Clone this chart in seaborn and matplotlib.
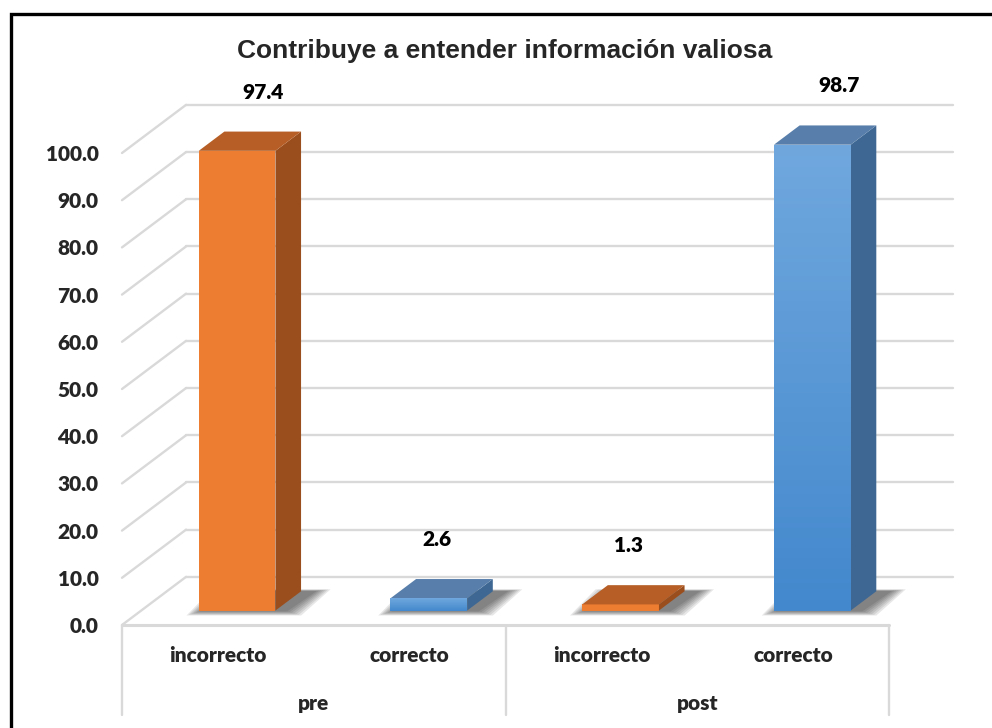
import matplotlib
matplotlib.use("Agg")
import matplotlib.pyplot as plt
from matplotlib.patches import Polygon, Rectangle
from matplotlib.colors import LinearSegmentedColormap
import numpy as np
import pandas as pd
import seaborn as sns

# datos del gráfico
grupos = ["pre", "pre", "post", "post"]
respuestas = ["incorrecto", "correcto", "incorrecto", "correcto"]
valores = [97.4, 2.6, 1.3, 98.7]
ticks_y = list(range(0, 101, 10))
titulo = "Contribuye a entender información valiosa"

df = pd.DataFrame({"grupo": grupos, "respuesta": respuestas, "valor": valores})
df["clave"] = df["grupo"] + "_" + df["respuesta"]

sns.set_theme(style="white")
plt.rcParams["font.family"] = ["Lato", "DejaVu Sans"]

# colores (cara frontal, lateral, superior)
colores = {"incorrecto": "#ED7D31", "correcto": "#5B9BD5"}
lateral = {"incorrecto": "#9B4E1D", "correcto": "#3E6893"}
superior = {"incorrecto": "#B65E25", "correcto": "#587FAB"}

# profundidad del "3D" en unidades de datos
DX, DY = 0.334, 10.2
ANCHO = 0.40
PESO = "heavy"

fig = plt.figure(figsize=(9.92, 7.28), dpi=100)
ax = fig.add_axes([122 / 992, 103 / 728, 838 / 992, 565 / 728])

sns.barplot(data=df, x="clave", y="valor", hue="respuesta", palette=colores,
            width=ANCHO, dodge=False, legend=False, saturation=1, ax=ax, zorder=3)

# pared del fondo con líneas de cuadrícula
gris = "#D9D9D9"
for v in ticks_y:
    ax.plot([-0.5, -0.5 + DX], [v, v + DY], color=gris, lw=1.7, zorder=0.5, clip_on=False)
    ax.plot([-0.5 + DX, 3.5 + DX], [v + DY, v + DY], color=gris, lw=1.7, zorder=0.5, clip_on=False)
# borde frontal del piso
ax.plot([-0.5, 3.5], [0, 0], color=gris, lw=2.2, zorder=0.6, clip_on=False)

# caras laterales, superiores, sombras y degradado
azul_grad = np.linspace(0, 1, 256).reshape(-1, 1)
cmap_azul = LinearSegmentedColormap.from_list("az", ["#4388CD", "#70A8DE"])

barras = [p for p in ax.patches]
for p in barras:
    x0 = p.get_x() + 0.3 * DX
    y0 = 0.3 * DY
    w = p.get_width()
    h = p.get_height()
    cx = x0 + w / 2 - 0.3 * DX
    idx = int(round(cx))
    resp = respuestas[idx]
    p.set_x(x0)
    p.set_y(y0)
    p.set_edgecolor("none")

    # sombra difusa sobre el piso
    for k in range(1, 8):
        e = 0.012 * k
        base = [(x0 - e + 0.02, y0 - 0.15 * k), (x0 + w + e + 0.05, y0 - 0.15 * k),
                (x0 + w + 0.4 * DX + e + 0.07, y0 + 0.4 * DY + 0.06 * k),
                (x0 + 0.4 * DX - e + 0.02, y0 + 0.4 * DY + 0.06 * k)]
        ax.add_patch(Polygon(base, closed=True, fc="#1a1a1a", ec="none", alpha=0.1, zorder=1))

    lado = [(x0 + w, y0), (x0 + w + 0.4 * DX, y0 + 0.4 * DY),
            (x0 + w + 0.4 * DX, y0 + h + 0.4 * DY), (x0 + w, y0 + h)]
    tapa = [(x0, y0 + h), (x0 + w, y0 + h),
            (x0 + w + 0.4 * DX, y0 + h + 0.4 * DY), (x0 + 0.4 * DX, y0 + h + 0.4 * DY)]
    ax.add_patch(Polygon(lado, closed=True, fc=lateral[resp], ec="none", zorder=3))
    ax.add_patch(Polygon(tapa, closed=True, fc=superior[resp], ec="none", zorder=3))

    if resp == "correcto":
        im = ax.imshow(azul_grad, extent=[x0, x0 + w, y0, y0 + h], origin="lower",
                       cmap=cmap_azul, aspect="auto", zorder=3.5)
        im.set_clip_path(p)

    # etiqueta de valor
    ax.text(cx + 0.14 + 0.001 * h, h + 15.5, f"{h:.1f}", ha="center", va="center",
            fontsize=15, fontweight=PESO, color="black", zorder=5)

ax.set_xlim(-0.5, -0.5 + 838 / 191.75)
ax.set_ylim(0, 565 / 4.72)

# eje y
ax.set_yticks(ticks_y)
ax.set_yticklabels([f"{v:.1f}" for v in ticks_y], fontsize=15, fontweight=PESO)
ax.tick_params(axis="y", length=0, pad=17)
ax.set_xticks([])
ax.set_xlabel("")
ax.set_ylabel("")
for s in ax.spines.values():
    s.set_visible(False)

# etiquetas de categorías y grupos debajo del eje
for i, r in enumerate(respuestas):
    ax.text(i, -6.4, r, ha="center", va="center", fontsize=15, fontweight=PESO, clip_on=False)
for j, g in enumerate(["pre", "post"]):
    ax.text(2 * j + 0.5, -16.6, g, ha="center", va="center", fontsize=15, fontweight=PESO, clip_on=False)
for xs in [-0.5, 1.5, 3.5]:
    ax.plot([xs, xs], [0, -19.1], color=gris, lw=1.7, clip_on=False, zorder=0.5)

# título y marco
fig.text(505 / 992, 1 - 51 / 728, titulo, ha="center", va="center", fontsize=19,
         fontweight="bold", fontfamily=["Liberation Sans", "DejaVu Sans"])
fig.add_artist(Rectangle((11 / 992, -0.02), 1.0, 1 - 14 / 728 + 0.02, transform=fig.transFigure,
                         fill=False, ec="black", lw=2.4))

fig.savefig("out.png", dpi=100, facecolor="white")
